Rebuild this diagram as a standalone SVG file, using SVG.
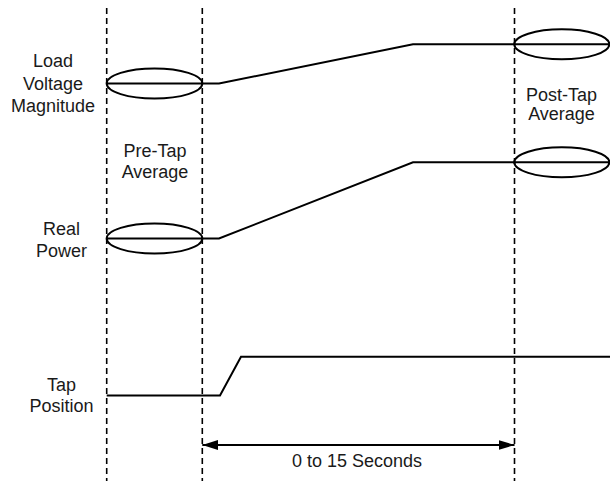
<svg xmlns="http://www.w3.org/2000/svg" width="610" height="481" viewBox="0 0 610 481">
<defs>
<style>
.lbl{font-family:"Liberation Sans",Arial,sans-serif;font-size:18px;fill:#1a1a1a;text-anchor:middle}
.dash{stroke:#000;stroke-width:1.6;stroke-dasharray:6 4;fill:none}
.sig{stroke:#000;stroke-width:2;fill:none;stroke-linejoin:miter}
.ell{stroke:#000;stroke-width:2;fill:none}
</style>
<marker id="ah" viewBox="0 0 16 10" refX="16" refY="5" markerWidth="16" markerHeight="10" markerUnits="userSpaceOnUse" orient="auto-start-reverse">
<path d="M0,0 L16,5 L0,10 Z" fill="#000"/>
</marker>
</defs>
<rect width="610" height="481" fill="#fff"/>
<g id="guides">
<line class="dash" x1="106.7" y1="8" x2="106.7" y2="481"/>
<line class="dash" x1="202.3" y1="8" x2="202.3" y2="481"/>
<line class="dash" x1="514.5" y1="8" x2="514.5" y2="481"/>
</g>
<g id="connectors">
<polyline class="sig" points="106.7,83.5 219,83.5 413,44.3 610,44.3"/>
<polyline class="sig" points="106.7,238.5 219,238.5 413,162.3 610,162.3"/>
<polyline class="sig" points="106.7,395.5 220,395.5 241,356.7 610,356.7"/>
<line x1="202.3" y1="445" x2="514.5" y2="445" stroke="#000" stroke-width="2" marker-start="url(#ah)" marker-end="url(#ah)"/>
</g>
<g id="ellipses">
<ellipse class="ell" cx="154.5" cy="83.5" rx="47.8" ry="15"/>
<ellipse class="ell" cx="154.5" cy="238.5" rx="47.8" ry="15"/>
<ellipse class="ell" cx="561.8" cy="44.3" rx="47.5" ry="15"/>
<ellipse class="ell" cx="561.8" cy="162.3" rx="47.5" ry="15"/>
</g>
<g id="label-voltage">
<text class="lbl" x="53" y="67">Load</text>
<text class="lbl" x="53" y="89.5">Voltage</text>
<text class="lbl" x="53" y="112">Magnitude</text>
</g>
<g id="label-power">
<text class="lbl" x="61.5" y="235">Real</text>
<text class="lbl" x="61.5" y="257">Power</text>
</g>
<g id="label-tap">
<text class="lbl" x="61.5" y="391">Tap</text>
<text class="lbl" x="61.5" y="412">Position</text>
</g>
<g id="label-pretap">
<text class="lbl" x="155" y="157">Pre-Tap</text>
<text class="lbl" x="155" y="178">Average</text>
</g>
<g id="label-posttap">
<text class="lbl" x="561.5" y="101">Post-Tap</text>
<text class="lbl" x="561.5" y="120">Average</text>
</g>
<g id="label-duration">
<text class="lbl" x="357" y="467">0 to 15 Seconds</text>
</g>
</svg>
